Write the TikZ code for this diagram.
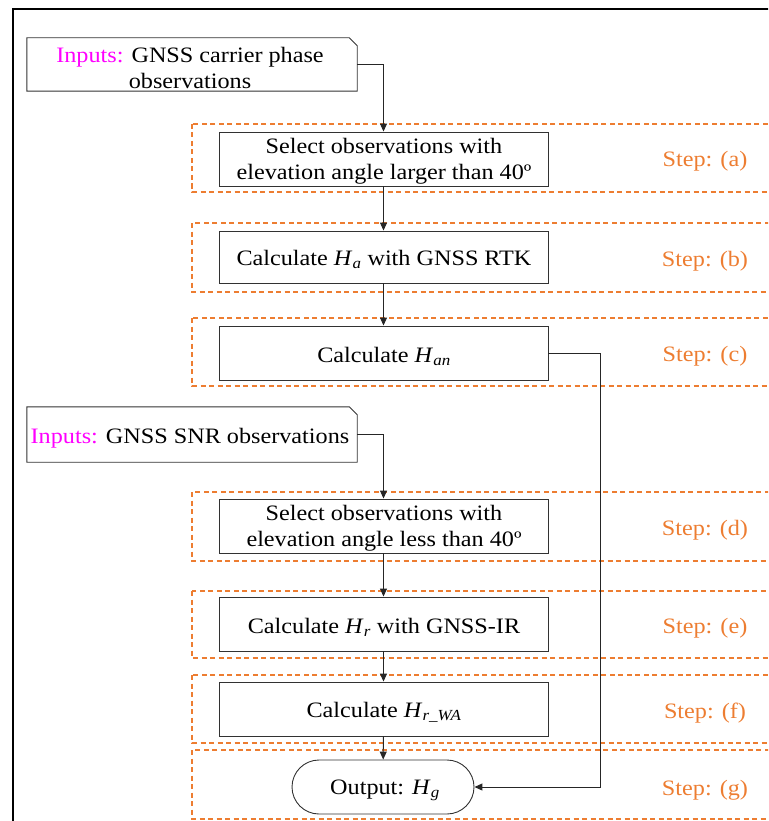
\documentclass[tikz,border=0pt]{standalone}
\usepackage{fontspec}
\setmainfont[FakeStretch=1.1]{Liberation Serif}
\usetikzlibrary{arrows.meta,shapes.misc}
\definecolor{stepor}{RGB}{237,125,49}
\definecolor{inmag}{RGB}{255,0,255}
\definecolor{boxgray}{RGB}{50,50,50}
\newcommand{\fsz}{\fontsize{22}{26}\selectfont}
\tikzset{
  proc/.style={draw=boxgray, line width=0.9pt, minimum width=329pt, minimum height=54pt, inner sep=0pt},
  ptext/.style={align=center, font=\fsz, inner sep=0pt},
  inbox/.style={draw=none, minimum width=330pt, inner sep=0pt},
  stepzone/.style={draw=stepor, dash pattern=on 5pt off 3.5pt, line width=1.1pt},
  steplbl/.style={text=stepor, font=\fsz, inner sep=0pt},
  conn/.style={draw=black!85, line width=1pt, -{Triangle[length=8pt,width=7pt]}},
  outline/.style={draw=boxgray, line width=0.9pt}
}
\begin{document}
\begin{tikzpicture}[x=1pt,y=-1pt]
\useasboundingbox (0,0) rectangle (768,821);
\clip (0,0) rectangle (768,821);
% outer frame
\draw[line width=2pt] (13,9) rectangle (800,860);
% step zones
\draw[stepzone] (192,124) rectangle (790,192);
\draw[stepzone] (192,223) rectangle (790,292);
\draw[stepzone] (192,318) rectangle (790,386);
\draw[stepzone] (192,492) rectangle (790,561);
\draw[stepzone] (192,591) rectangle (790,658);
\draw[stepzone] (192,675) rectangle (790,743);
\draw[stepzone] (192,750) rectangle (790,819);
% step labels
\node[steplbl] (la) at (705,161) {Step: (a)};
\node[steplbl] (lb) at (705,261) {Step: (b)};
\node[steplbl] (lc) at (705,356) {Step: (c)};
\node[steplbl] (ld) at (705,530) {Step: (d)};
\node[steplbl] (le) at (705,628) {Step: (e)};
\node[steplbl] (lf) at (705,713) {Step: (f)};
\node[steplbl] (lg) at (705,790) {Step: (g)};
% input 1
\node[inbox, minimum height=53pt] (in1) at (192,64.5) {};
\draw[outline] (in1.south west) -- (in1.north west) -- ([xshift=-8pt]in1.north east) -- ([yshift=-8pt]in1.north east) -- (in1.south east) -- cycle;
\node[ptext] (in1t) at (190,68) {\textcolor{inmag}{Inputs:} GNSS carrier phase\\observations};
% input 2
\node[inbox, minimum height=55pt] (in2) at (192,434.5) {};
\draw[outline] (in2.south west) -- (in2.north west) -- ([xshift=-8pt]in2.north east) -- ([yshift=-8pt]in2.north east) -- (in2.south east) -- cycle;
\node[ptext] (in2t) at (190,438.5) {\textcolor{inmag}{Inputs:} GNSS SNR observations};
% process boxes
\node[proc] (a) at (383.5,159) {};
\node[ptext] (at) at (384,161) {Select observations with\\elevation angle larger than 40º};
\node[proc, minimum height=52pt] (b) at (383.5,257) {};
\node[ptext] (bt) at (384,259.5) {Calculate \textit{H}\textsubscript{\textit{a}} with GNSS RTK};
\node[proc] (c) at (383.5,353) {};
\node[ptext] (ct) at (384,356) {Calculate \textit{H}\textsubscript{\textit{an}}};
\node[proc] (d) at (383.5,526) {};
\node[ptext] (dt) at (384,528) {Select observations with\\elevation angle less than 40º};
\node[proc] (e) at (383.5,624) {};
\node[ptext] (et) at (384,627) {Calculate \textit{H}\textsubscript{\textit{r}} with GNSS-IR};
\node[proc] (f) at (383.5,709) {};
\node[ptext] (ft) at (384,712) {Calculate \textit{H}\textsubscript{\textit{r\_WA}}};
\node[draw=boxgray, line width=0.9pt, rounded rectangle, minimum width=182pt, minimum height=54pt, inner sep=0pt] (out) at (383,787) {};
\node[ptext] (outt) at (385,790) {Output: \textit{H}\textsubscript{\textit{g}}};
% connectors
\draw[conn] (in1.east) -| (a.north);
\draw[conn] (a) -- (b);
\draw[conn] (b) -- (c);
\draw[conn] (in2.east) -| (d.north);
\draw[conn] (d) -- (e);
\draw[conn] (e) -- (f);
\draw[conn] (f) -- (out);
\draw[conn] (c.east) -- ++(52,0) |- (out.east);
\end{tikzpicture}
\end{document}
